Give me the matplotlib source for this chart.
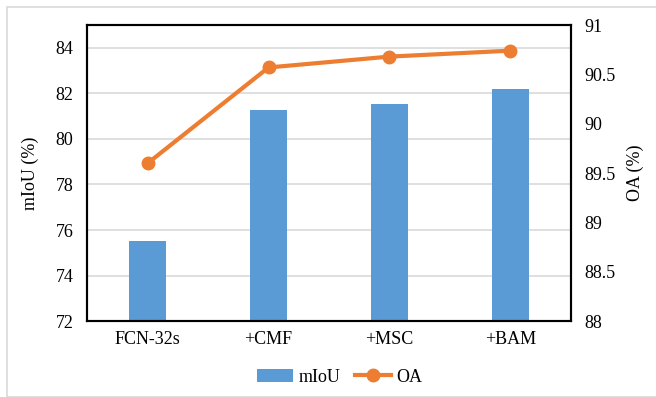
import numpy as np
import matplotlib
matplotlib.use("Agg")
import matplotlib.pyplot as plt
from matplotlib.patches import Rectangle

plt.rcParams['font.family'] = ['Liberation Serif', 'DejaVu Serif']
plt.rcParams['font.size'] = 13

methods = ['FCN-32s', '+CMF', '+MSC', '+BAM']
miou = [75.5, 81.25, 81.55, 82.2]
oa = [89.6, 90.57, 90.68, 90.74]

fig = plt.figure(figsize=(6.56, 3.97), dpi=100)
ax = fig.add_axes([0.133, 0.191, 0.737, 0.746])
x = np.arange(len(methods))

ax.bar(x, miou, width=0.31, color='#5B9BD5', label='mIoU', zorder=2)
ax.set_ylim(72, 85)
ax.set_yticks(np.arange(72, 85, 2))
ax.set_xlim(-0.5, 3.5)
ax.set_xticks(x)
ax.set_xticklabels(methods)
ax.yaxis.grid(True, color='#D9D9D9', linewidth=1.2, zorder=0)
ax.set_axisbelow(True)
ax.tick_params(axis='y', length=0, pad=10)
ax.tick_params(axis='x', length=0, pad=7)
ax.set_ylabel('mIoU (%)', fontsize=13, labelpad=12)
for s in ax.spines.values():
    s.set_linewidth(1.5)
    s.set_color('black')

ax2 = ax.twinx()
ax2.plot(x, oa, color='#ED7D31', linewidth=3, marker='o', markersize=9, label='OA', zorder=3)
ax2.set_ylim(88, 91)
ax2.set_yticks(np.arange(88, 91.01, 0.5))
ax2.set_yticklabels(['88', '88.5', '89', '89.5', '90', '90.5', '91'])
ax2.tick_params(length=0, pad=10)
ax2.set_ylabel('OA (%)', fontsize=13, labelpad=8)
for s in ax2.spines.values():
    s.set_linewidth(1.5)

h1, l1 = ax.get_legend_handles_labels()
h2, l2 = ax2.get_legend_handles_labels()
fig.legend(h1 + h2, l1 + l2, loc='center', bbox_to_anchor=(0.518, 0.05), ncol=2,
           frameon=False, handlelength=2.0, columnspacing=0.8, handletextpad=0.3)

fig.patches.append(Rectangle((0.011, 0.0), 1.0, 0.982, transform=fig.transFigure,
                             fill=False, edgecolor='#D9D9D9', linewidth=1.2))

fig.savefig('out.png', dpi=100)
